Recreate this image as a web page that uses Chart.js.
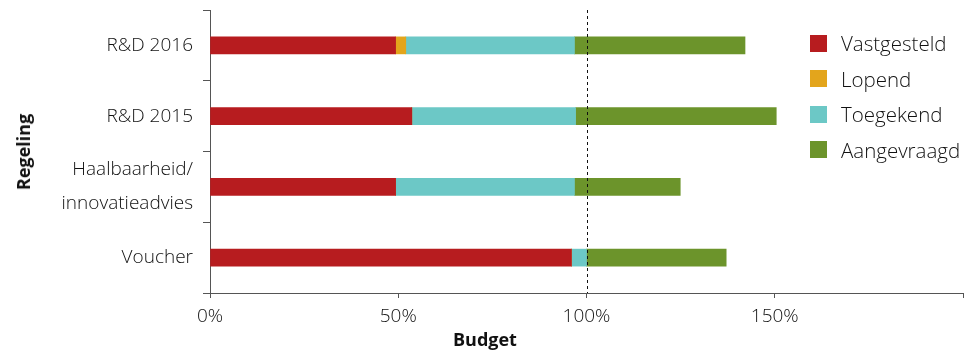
<!DOCTYPE html>
<html>
<head>
<meta charset="utf-8">
<script src="https://cdn.jsdelivr.net/npm/chart.js@4/dist/chart.umd.min.js"></script>
<style>
  body { margin: 0; background: #fff; }
  #wrap { position: relative; width: 964px; height: 355px; font-family: "Open Sans", sans-serif; color: #111; }
  #chart { position: absolute; left: 0; top: 0; }
  #legend { position: absolute; left: 810px; top: 25.5px; }
  .row { height: 35.5px; display: flex; align-items: center; font-size: 20.5px; font-weight: 300; }
  .box { width: 17px; height: 17px; margin-right: 14px; }
  .xtitle { position: absolute; left: 453px; top: 327px; font-size: 18px; font-weight: bold; }
  .ytitle { position: absolute; left: 23px; top: 152px; font-size: 18px; font-weight: bold;
            transform: translate(-50%, -50%) rotate(-90deg); white-space: nowrap; }
</style>
</head>
<body>
<div id="wrap">
  <canvas id="chart" width="964" height="355"></canvas>
  <div id="legend"></div>
  <div class="xtitle">Budget</div>
  <div class="ytitle">Regeling</div>
</div>
<script>
const ctx = document.getElementById("chart");

// categories (y axis)
const categories = ["R&D 2016", "R&D 2015", ["Haalbaarheid/", "innovatieadvies"], "Voucher"];

// series, percent of budget
const vastgesteld = [49.3, 53.6, 49.3, 96.0];
const lopend = [2.7, 0, 0, 0];
const toegekend = [44.8, 43.5, 47.5, 4.0];
const aangevraagd = [45.3, 53.3, 28.1, 37.1];

const seriesNames = ["Vastgesteld", "Lopend", "Toegekend", "Aangevraagd"];
const seriesColors = ["#b71c1f", "#e3a51c", "#6cc8c6", "#6c942b"];

const xTicks = [0, 50, 100, 150, 200];
const budgetLine = 100;

const datasets = [vastgesteld, lopend, toegekend, aangevraagd].map((d, i) => ({
  label: seriesNames[i],
  data: d,
  backgroundColor: seriesColors[i],
  borderWidth: 0,
  barThickness: 17,
}));

// dashed line at 100%
const refLine = {
  id: "refLine",
  afterDatasetsDraw(chart) {
    const c = chart.ctx;
    const x = Math.round(chart.scales.x.getPixelForValue(budgetLine)) + 0.5;
    const { top, bottom } = chart.chartArea;
    c.save();
    c.strokeStyle = "#111";
    c.lineWidth = 1;
    c.setLineDash([3, 3]);
    c.beginPath();
    c.moveTo(x, top);
    c.lineTo(x, bottom);
    c.stroke();
    c.restore();
  },
};

const tickFont = { family: "Open Sans", size: 19, weight: 300, lineHeight: 1.8 };

new Chart(ctx, {
  type: "bar",
  data: { labels: categories, datasets: datasets },
  plugins: [refLine],
  options: {
    indexAxis: "y",
    responsive: false,
    animation: false,
    layout: { padding: { top: 10, right: 1, left: 0, bottom: 0 } },
    plugins: { legend: { display: false }, tooltip: { enabled: false } },
    scales: {
      x: {
        stacked: true,
        min: 0,
        max: 200,
        afterBuildTicks: (s) => { s.ticks = xTicks.map((v) => ({ value: v })); },
        afterFit: (s) => { s.height = 62; s.paddingLeft = 0; s.paddingRight = 0; },
        grid: { drawOnChartArea: false, tickLength: 5, tickColor: "#555" },
        border: { color: "#555", width: 1 },
        ticks: {
          padding: 1,
          color: "#111",
          font: tickFont,
          maxRotation: 0,
          autoSkip: false,
          callback: (v) => (v === 200 ? "" : v + "%"),
        },
      },
      y: {
        stacked: true,
        afterFit: (s) => { s.width = 210; s.paddingTop = 0; s.paddingBottom = 0; },
        grid: { drawOnChartArea: false, offset: true, tickLength: 7, tickColor: "#555" },
        border: { color: "#555", width: 1 },
        ticks: {
          padding: 10,
          color: "#111",
          autoSkip: false,
          font: tickFont,
        },
      },
    },
  },
});

// legend
const legend = document.getElementById("legend");
seriesNames.forEach((name, i) => {
  const row = document.createElement("div");
  row.className = "row";
  row.innerHTML = '<div class="box" style="background:' + seriesColors[i] + '"></div><span>' + name + "</span>";
  legend.appendChild(row);
});
</script>
</body>
</html>
